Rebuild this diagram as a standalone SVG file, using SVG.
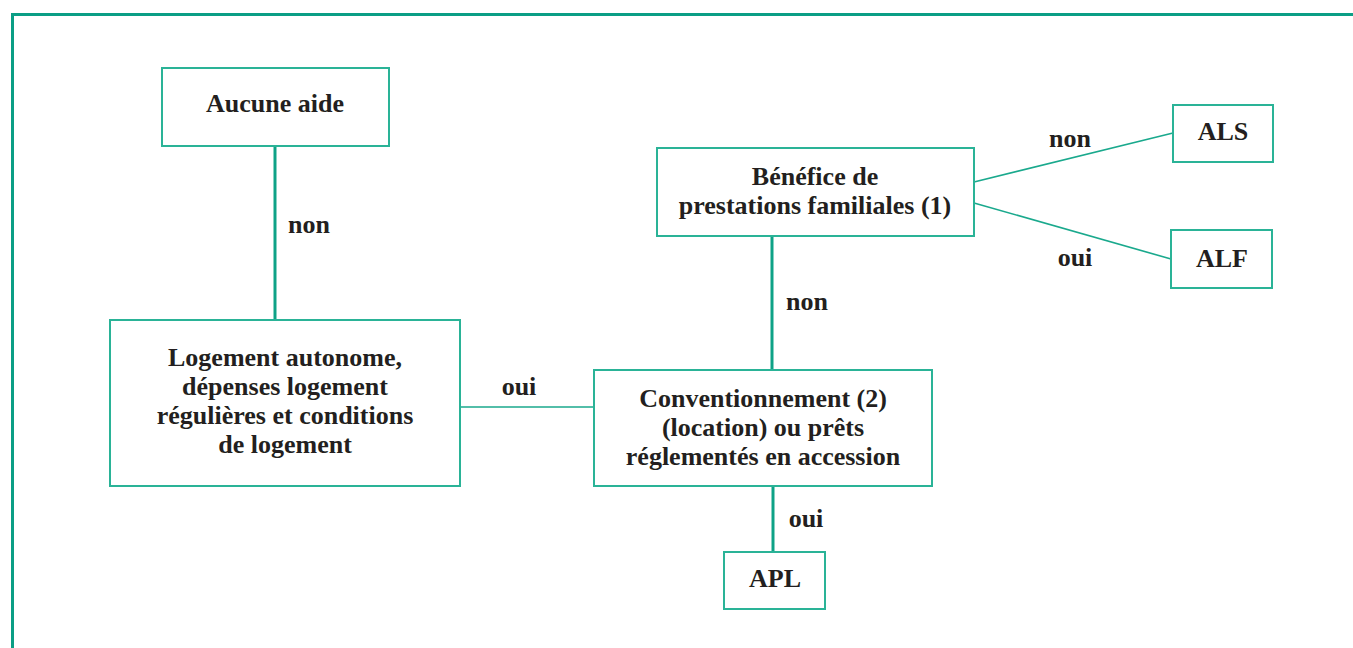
<svg xmlns="http://www.w3.org/2000/svg" width="1353" height="648" viewBox="0 0 1353 648">
<style>
.box{fill:#fff;stroke:#2ab397;stroke-width:2}
.t{font-family:"Liberation Serif","Times New Roman",serif;font-weight:bold;font-size:26px;fill:#231f20;text-anchor:middle}
.thick{stroke:#0fa287;stroke-width:3;fill:none}
.thin{stroke:#1aa98d;stroke-width:1.6;fill:none}
.frame{stroke:#0b9e85;stroke-width:3;fill:none}
</style>
<rect width="1353" height="648" fill="#fff"/>
<path class="frame" d="M12.5 648 V14.5 H1353"/>
<g id="connectors">
<line class="thick" x1="275" y1="146" x2="275" y2="320"/>
<text class="t" x="309" y="233">non</text>
<line class="thin" x1="460" y1="407" x2="594" y2="407"/>
<text class="t" x="519" y="395">oui</text>
<line class="thick" x1="772" y1="236" x2="772" y2="370"/>
<text class="t" x="807" y="310">non</text>
<line class="thick" x1="773" y1="486" x2="773" y2="552"/>
<text class="t" x="806" y="527">oui</text>
<line class="thin" x1="974" y1="182" x2="1173" y2="133"/>
<text class="t" x="1070" y="147">non</text>
<line class="thin" x1="974" y1="203" x2="1171" y2="259"/>
<text class="t" x="1075" y="266">oui</text>
</g>
<g id="aucune">
<rect class="box" x="162" y="68" width="227" height="78"/>
<text class="t" x="275" y="112">Aucune aide</text>
</g>
<g id="logement">
<rect class="box" x="110" y="320" width="350" height="166"/>
<text class="t" x="285" y="366">Logement autonome,</text>
<text class="t" x="285" y="395">dépenses logement</text>
<text class="t" x="285" y="424">régulières et conditions</text>
<text class="t" x="285" y="453">de logement</text>
</g>
<g id="conventionnement">
<rect class="box" x="594" y="370" width="338" height="116"/>
<text class="t" x="763" y="407">Conventionnement (2)</text>
<text class="t" x="763" y="436">(location) ou prêts</text>
<text class="t" x="763" y="465">réglementés en accession</text>
</g>
<g id="benefice">
<rect class="box" x="657" y="148" width="317" height="88"/>
<text class="t" x="815" y="185">Bénéfice de</text>
<text class="t" x="815" y="214">prestations familiales (1)</text>
</g>
<g id="als">
<rect class="box" x="1173" y="105" width="100" height="57"/>
<text class="t" x="1223" y="140">ALS</text>
</g>
<g id="alf">
<rect class="box" x="1171" y="230" width="101" height="58"/>
<text class="t" x="1222" y="267">ALF</text>
</g>
<g id="apl">
<rect class="box" x="724" y="552" width="101" height="57"/>
<text class="t" x="775" y="587">APL</text>
</g>
</svg>
